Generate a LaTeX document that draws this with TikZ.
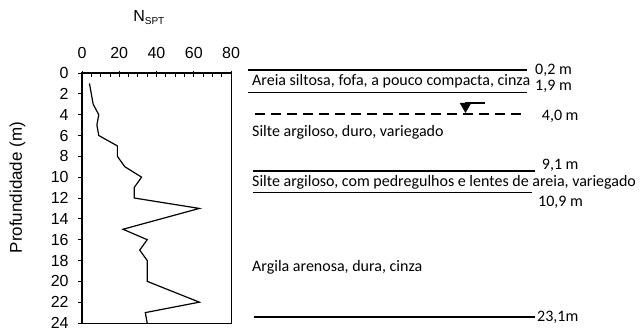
\documentclass[tikz,border=0pt]{standalone}
\usepackage{fontspec}
\setmainfont{Liberation Sans}
\newfontfamily\soilfont{Carlito}

\begin{document}
\begin{tikzpicture}[x=1pt, y=-1pt,
  layer/.style={line width=1.6pt},
  soil/.style={font=\soilfont\fontsize{16}{18}\selectfont, inner sep=0pt, anchor=base west},
  tick/.style={font=\fontsize{16}{18}\selectfont, inner sep=0pt}]
\useasboundingbox (0,0) rectangle (640,329);

% N_SPT profile
\begin{scope}[shift={(82,73)}, x=1.8625pt, y=-10.417pt]
\draw[line width=0.8pt] (0,0) rectangle (80,24);
\draw[line width=1.6pt] (0,24) -- (0,0) -- (80,0);
\foreach \d in {0,2,...,24}
  \draw[line width=0.8pt] (0,\d) -- ++(-4pt,0) node[tick, anchor=east, xshift=-9pt] {\d};
\foreach \n in {0,20,...,80} {
  \draw[line width=0.8pt] (\n,0) ++(0,2pt) -- ++(0,-6pt);
  \node[tick, anchor=base] at (\n,0) [yshift=14pt] {\n};
}
\foreach \n in {5,10,15,25,30,35,45,50,55,65,70,75}
  \draw[line width=0.8pt] (\n,0) -- ++(0,-4pt);
\draw[line width=1.2pt] plot coordinates {(4,1) (6,3) (9,4) (8,5) (9,6) (19,7) (19,8) (23,9) (32,10) (28,11) (28,12) (63,13) (22,15) (35,16) (31,17) (35,18) (35,20) (63,22) (34,23) (35,24)};
\node[font=\fontsize{17}{19}\selectfont, rotate=90] at (-34.6,11) {Profundidade (m)};
\node[font=\fontsize{16}{18}\selectfont, anchor=base] at (36,-4.9) {N\textsubscript{\fontsize{10}{12}\selectfont SPT}};
\end{scope}

% soil layers
\draw[layer] (248,70) -- (527,70);
\node[soil] at (535,74.3) {0,2 m};
\node[soil] at (252,85.7) {Areia siltosa, fofa, a pouco compacta, cinza};
\draw[layer] (248,92.3) -- (527,92.3);
\node[soil] at (535,91) {1,9 m};

\draw[line width=1.2pt, dash pattern=on 10pt off 6pt] (255,114) -- (523,114);
\filldraw (460,103) -- (471,103) -- (465.5,112.5) -- cycle;
\draw[line width=1.2pt] (465,103) -- (485,103);
\node[soil] at (541.7,120) {4,0 m};
\node[soil] at (252,136.7) {Silte argiloso, duro, variegado};

\draw[layer] (253,170.7) -- (535,170.7);
\node[soil] at (541.7,169) {9,1 m};
\node[soil] at (252,186) {Silte argiloso, com pedregulhos e lentes de areia, variegado};
\draw[layer] (253,192.3) -- (532,192.3);
\node[soil] at (538,206.7) {10,9 m};

\node[soil] at (252,271.7) {Argila arenosa, dura, cinza};
\draw[layer] (254,316.7) -- (535,316.7);
\node[soil] at (537,321.7) {23,1m};
\end{tikzpicture}
\end{document}
